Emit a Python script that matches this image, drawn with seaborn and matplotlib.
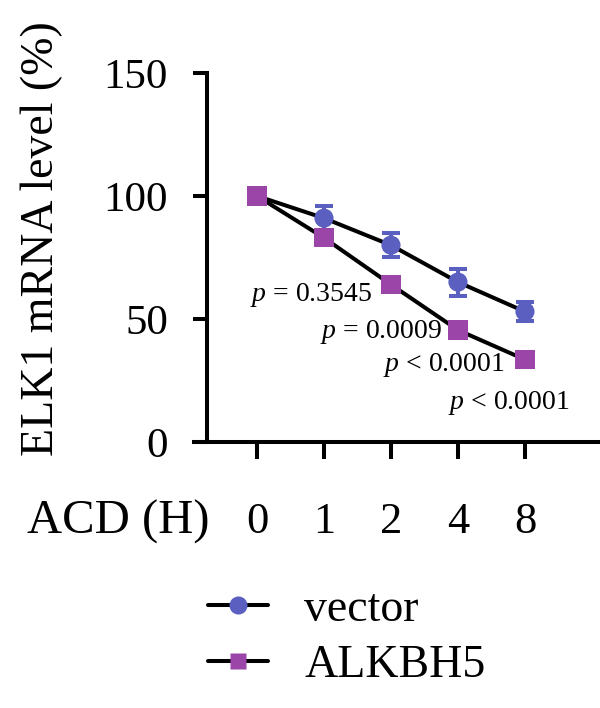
import matplotlib
matplotlib.use("Agg")
import matplotlib.pyplot as plt
from matplotlib.lines import Line2D
import seaborn as sns
import pandas as pd
import numpy as np

# ---- data ----
time_labels = ["0", "1", "2", "4", "8"]
vector_mean = [100, 91, 80, 65, 53]
vector_err = [0, 5, 5, 5.5, 4]
alkbh5_mean = [100, 83, 64, 45.5, 33.5]
alkbh5_err = [0, 3, 3, 3, 3]
p_labels = ["0.3545", "0.0009", "0.0001", "0.0001"]
p_ops = ["=", "=", "<", "<"]

sns.set_theme(style="ticks")
plt.rcParams['font.family'] = ['Liberation Serif', 'DejaVu Serif']
plt.rcParams['mathtext.fontset'] = 'custom'
plt.rcParams['mathtext.it'] = 'Liberation Serif:italic'
plt.rcParams['mathtext.rm'] = 'Liberation Serif'
plt.rcParams['text.color'] = 'black'
plt.rcParams['axes.labelcolor'] = 'black'
plt.rcParams['xtick.color'] = 'black'
plt.rcParams['ytick.color'] = 'black'

blue = "#5a5fc0"
purple = "#9b45a8"
LW = 2.9

idx = list(range(len(time_labels)))
df = pd.DataFrame({
    "t": idx * 2,
    "value": vector_mean + alkbh5_mean,
    "err": vector_err + alkbh5_err,
    "group": ["vector"] * len(idx) + ["ALKBH5"] * len(idx),
})

fig = plt.figure(figsize=(6, 7.08), dpi=100)
ax = fig.add_axes([194 / 600, 1 - 442 / 708, 406 / 600, 369 / 708])

# black connecting lines
sns.lineplot(data=df, x="t", y="value", hue="group",
             palette={"vector": "black", "ALKBH5": "black"},
             linewidth=LW, legend=False, ax=ax, zorder=2)

# error bars
for g, col in [("vector", blue), ("ALKBH5", purple)]:
    sub = df[df.group == g]
    ax.errorbar(sub.t, sub.value, yerr=sub.err, fmt="none", ecolor=col,
                elinewidth=LW, capsize=6.5, capthick=LW, zorder=3)

# markers
sns.scatterplot(data=df, x="t", y="value", hue="group", style="group",
                palette={"vector": blue, "ALKBH5": purple},
                markers={"vector": "o", "ALKBH5": "s"},
                s=190, edgecolor="none", legend=False, ax=ax, zorder=4)

ax.set_xlim(-0.94, 5.12)
ax.set_ylim(0, 150)
ax.set_yticks([0, 50, 100, 150])
ax.set_xticks(idx)
ax.set_xticklabels(time_labels)
ax.set_xlabel("")
ax.set_ylabel("")
ax.spines['left'].set_position(('data', -0.746))
ax.spines['right'].set_visible(False)
ax.spines['top'].set_visible(False)
for s in ['left', 'bottom']:
    ax.spines[s].set_linewidth(LW)
    ax.spines[s].set_color('black')
ax.tick_params(axis='y', length=10, width=LW, pad=18, labelsize=31, colors='black')
ax.tick_params(axis='x', length=12, width=LW, pad=31, labelsize=32, colors='black')
ax.set_facecolor('white')

# p-value annotations
p_pos = [(1.72, 59.8), (2.76, 44.7), (3.70, 31.3), (4.67, 15.9)]
for (x, y), op, val in zip(p_pos, p_ops, p_labels):
    ax.text(x, y, r"$\mathit{p}$ " + op + " " + val, ha="right", va="center",
            fontsize=20, color="black")

fig.text(27 / 600, 1 - 522 / 708, "ACD (H)", ha="left", va="center",
         fontsize=35, color="black")
fig.text(42 / 600, 1 - 239 / 708, "ELK1 mRNA level (%)", rotation=90,
         ha="center", va="center", fontsize=33, color="black")

handles = [
    Line2D([0], [0], color="black", lw=LW, marker="o", markersize=13,
           markerfacecolor=blue, markeredgecolor="none"),
    Line2D([0], [0], color="black", lw=LW, marker="s", markersize=12,
           markerfacecolor=purple, markeredgecolor="none"),
]
leg = fig.legend(handles, ["vector", "ALKBH5"], loc="center left",
                 bbox_to_anchor=(208 / 600, 1 - 637.5 / 708), frameon=False,
                 fontsize=33, handlelength=1.3, handletextpad=0.8,
                 labelspacing=0.3, borderpad=0, borderaxespad=0)
for t in leg.get_texts():
    t.set_color("black")

fig.savefig("out.png", dpi=100, facecolor="white")
